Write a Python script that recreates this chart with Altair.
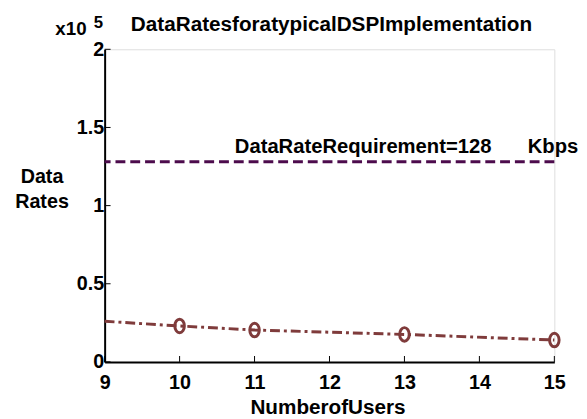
import altair as alt
import pandas as pd

# ---- data ----
users = [9, 10, 11, 13, 15]
rates = [26000, 23000, 20400, 17600, 14000]
show_marker = [False, True, True, True, True]
requirement = 128000
x_ticks = [9, 10, 11, 12, 13, 14, 15]
y_ticks = [0, 50000, 100000, 150000, 200000]

title_text = "DataRatesforatypicalDSPImplementation"
annot_left = "DataRateRequirement=128"
annot_right = "Kbps"

W, H = 456, 317
FONT = "Liberation Sans"
BROWN = "#7f3b3b"
PURPLE = "#4c0b4c"

df = pd.DataFrame({"users": users, "rate": rates, "marker": show_marker})
req_df = pd.DataFrame({"rate": [requirement]})
xt_df = pd.DataFrame({"t": x_ticks})
yt_df = pd.DataFrame({"t": y_ticks})

xscale = alt.Scale(domain=[9, 15], nice=False, zero=False)
yscale = alt.Scale(domain=[0, 200000], nice=False)

xaxis = alt.Axis(values=x_ticks, format="d", tickSize=0, labelPadding=11, grid=False,
                 domainColor="black", domainWidth=2,
                 labelFont=FONT, labelFontSize=20, labelFontWeight="bold", labelColor="black",
                 title="NumberofUsers", titleFont=FONT, titleFontSize=21, titleFontWeight="bold",
                 titleColor="black", titleX=226, titleY=52, titleBaseline="alphabetic",
                 titleAlign="center", labelFlush=False)
yaxis = alt.Axis(values=y_ticks, tickSize=0, labelPadding=1, grid=False,
                 domainColor="black", domainWidth=2,
                 labelExpr="datum.value / 100000 + ''",
                 labelFont=FONT, labelFontSize=20, labelFontWeight="bold", labelColor="black",
                 title=["Data", "Rates"], titleFont=FONT, titleFontSize=20, titleFontWeight="bold",
                 titleColor="black", titleAngle=0, titleX=-64, titleY=135,
                 titleBaseline="alphabetic", titleAlign="center", titleLineHeight=25,
                 labelFlush=False)

line = alt.Chart(df).mark_line(color=BROWN, strokeWidth=3, strokeDash=[10, 4, 3, 4]).encode(
    x=alt.X("users:Q", scale=xscale, axis=xaxis),
    y=alt.Y("rate:Q", scale=yscale, axis=yaxis),
)

ellipse = "M-0.7,0 A0.7,1 0 1,0 0.7,0 A0.7,1 0 1,0 -0.7,0 Z"
points = alt.Chart(df).transform_filter("datum.marker").mark_point(
    shape=ellipse, size=190, filled=False, color=BROWN, strokeWidth=3, opacity=1
).encode(x=alt.X("users:Q", scale=xscale), y=alt.Y("rate:Q", scale=yscale))

req = alt.Chart(req_df).mark_rule(color=PURPLE, strokeWidth=3, strokeDash=[10, 5]).encode(
    y=alt.Y("rate:Q", scale=yscale)
)

xticks = alt.Chart(xt_df).mark_rule(color="black", strokeWidth=1).encode(
    x=alt.X("t:Q", scale=xscale), y=alt.value(H), y2=alt.value(H - 6)
)
yticks = alt.Chart(yt_df).mark_rule(color="black", strokeWidth=1).encode(
    y=alt.Y("t:Q", scale=yscale), x=alt.value(0), x2=alt.value(6)
)

def label(text, x, y, size, align="left"):
    return alt.Chart(pd.DataFrame({"t": [text]})).mark_text(
        font=FONT, fontSize=size, fontWeight="bold", color="black",
        align=align, baseline="alphabetic"
    ).encode(text="t:N", x=alt.value(x), y=alt.value(y))

texts = [
    label(title_text, 230, -19, 21, "center"),
    label("x10", -50, -14, 19),
    label("5", -11, -22, 17),
    label(annot_left, 132, 105, 20.5),
    label(annot_right, 429, 105, 20.5),
]

chart = alt.layer(req, line, points, xticks, yticks, *texts).properties(
    width=W, height=H,
    autosize=alt.AutoSizeParams(type="none"),
    padding={"left": 98, "top": 39, "right": 25, "bottom": 55},
).configure_view(stroke="#444", strokeWidth=1).configure(background="white")

chart.save("out.html", embed_options={"renderer": "svg", "actions": False})
